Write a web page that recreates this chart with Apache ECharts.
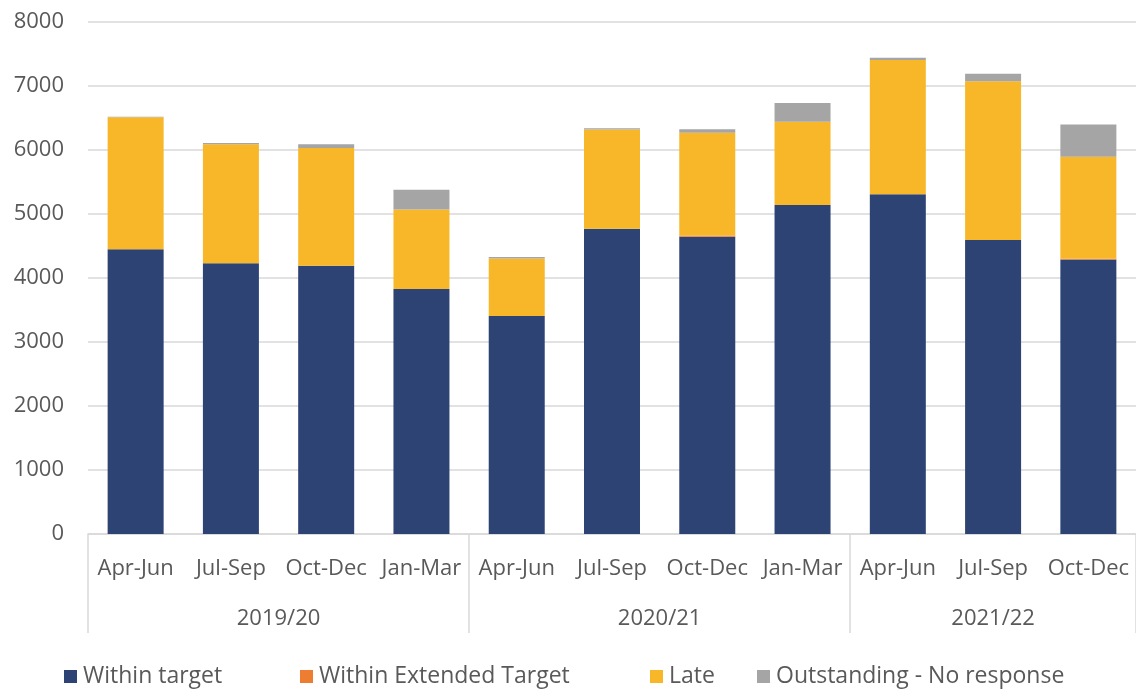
<!DOCTYPE html>
<html>
<head>
<meta charset="utf-8">
<script src="https://cdn.jsdelivr.net/npm/echarts@6/dist/echarts.min.js"></script>
<style>
html,body{margin:0;padding:0;background:#fff;}
#c{width:1136px;height:690px;}
</style>
</head>
<body>
<div id="c"></div>
<script>
const quarters = ['Apr-Jun','Jul-Sep','Oct-Dec','Jan-Mar','Apr-Jun','Jul-Sep','Oct-Dec','Jan-Mar','Apr-Jun','Jul-Sep','Oct-Dec'];
const years = ['2019/20','2020/21','2021/22'];
const yearCounts = [4, 4, 3];
const withinTarget = [4450, 4230, 4190, 3830, 3405, 4770, 4645, 5140, 5310, 4595, 4290];
const withinExtended = [0, 0, 0, 0, 0, 0, 20, 0, 0, 0, 10];
const late = [2060, 1860, 1840, 1240, 900, 1550, 1605, 1300, 2095, 2480, 1595];
const outstanding = [10, 20, 60, 310, 25, 20, 55, 295, 35, 115, 505];
const yTicks = [0, 1000, 2000, 3000, 4000, 5000, 6000, 7000, 8000];

const seriesNames = ['Within target','Within Extended Target','Late','Outstanding - No response'];
const colors = ['#2C4373','#ED7D31','#F7B729','#A5A5A5'];
const seriesData = [withinTarget, withinExtended, late, outstanding];

const bounds = [0]; const centres = [];
yearCounts.forEach((n, i) => { centres.push(bounds[i] + n / 2); bounds.push(bounds[i] + n); });

const font = '"Open Sans", Lato, sans-serif';
const txt = '#595959';

const chart = echarts.init(document.getElementById('c'));
const legendLefts = [64, 300, 650, 757];
chart.setOption({
  animation: false,
  textStyle: { fontFamily: font },
  grid: { left: 88, right: 0, top: 22, bottom: 156 },
  legend: seriesNames.map((n, i) => ({
    data: [n], left: legendLefts[i], top: 665, padding: 0, itemWidth: 13, itemHeight: 13, itemGap: 6,
    icon: 'rect', textStyle: { fontSize: 23, color: txt, fontFamily: font, padding: [0, 0, 0, 1] }
  })),
  xAxis: [{
    type: 'category', data: quarters,
    axisLine: { show: true, lineStyle: { color: '#D9D9D9', width: 1.5 } },
    axisTick: { show: false },
    axisLabel: { color: txt, fontSize: 22, margin: 24, interval: 0 }
  }, {
    type: 'value', position: 'bottom', min: 0, max: quarters.length,
    axisLine: { show: false },
    splitLine: { show: false },
    axisTick: { show: true, customValues: bounds, length: 99, lineStyle: { color: '#D9D9D9', width: 1.5 } },
    axisLabel: {
      customValues: centres, color: txt, fontSize: 22, margin: 74,
      formatter: v => years[centres.indexOf(v)] || ''
    }
  }],
  yAxis: {
    type: 'value', min: yTicks[0], max: yTicks[yTicks.length - 1], interval: 1000,
    axisLine: { show: false }, axisTick: { show: false },
    axisLabel: { color: txt, fontSize: 22, margin: 24, formatter: v => String(v) },
    splitLine: { lineStyle: { color: '#D9D9D9', width: 1.5 } }
  },
  series: seriesNames.map((n, i) => ({
    name: n, type: 'bar', stack: 'total', data: seriesData[i], barWidth: 56,
    xAxisIndex: 0,
    itemStyle: { color: colors[i] }
  }))
});
</script>
</body>
</html>
